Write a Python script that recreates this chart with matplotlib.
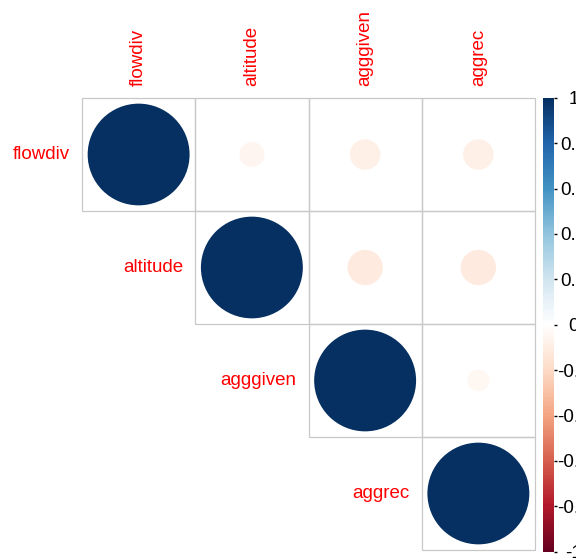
import numpy as np
import matplotlib
matplotlib.use('Agg')
import matplotlib.pyplot as plt
import matplotlib as mpl
from matplotlib.patches import Rectangle, Circle
from matplotlib.colors import LinearSegmentedColormap, Normalize

plt.rcParams['font.family'] = ['Liberation Sans', 'DejaVu Sans']

# correlation matrix of the four variables
variables = ['flowdiv', 'altitude', 'agggiven', 'aggrec']
corr = np.array([
    [1.00, -0.06, -0.09, -0.09],
    [-0.06, 1.00, -0.12, -0.12],
    [-0.09, -0.12, 1.00, -0.045],
    [-0.09, -0.12, -0.045, 1.00],
])
cbar_ticks = [-1, -0.8, -0.6, -0.4, -0.2, 0, 0.2, 0.4, 0.6, 0.8, 1]

# RdBu palette as used by corrplot
rdbu = ['#67001F', '#B2182B', '#D6604D', '#F4A582', '#FDDBC7', '#FFFFFF',
        '#D1E5F0', '#92C5DE', '#4393C3', '#2166AC', '#053061']
cmap = LinearSegmentedColormap.from_list('rdbu', rdbu, N=200)
norm = Normalize(vmin=-1, vmax=1)

W, H = 576, 560
fig = plt.figure(figsize=(W / 100, H / 100), dpi=100)

left, right, top, bottom = 82, 535, 98, 550
ax = fig.add_axes([left / W, (H - bottom) / H, (right - left) / W, (bottom - top) / H])
n = len(variables)
ax.set_xlim(0, n)
ax.set_ylim(n, 0)
ax.axis('off')

# upper triangle: grid cells and circles (area ~ |r|)
for i in range(n):
    for j in range(i, n):
        ax.add_patch(Rectangle((j, i), 1, 1, fill=False, edgecolor='#C8C8C8',
                               linewidth=0.9, clip_on=False))
        r = corr[i, j]
        ax.add_patch(Circle((j + 0.5, i + 0.5), 0.45 * np.sqrt(abs(r)),
                            facecolor=cmap(norm(r)), edgecolor='none', zorder=3))

# row labels to the left of the diagonal, column labels on top
for i, name in enumerate(variables):
    ax.annotate(name, xy=(i, i + 0.5), xytext=(-12, 0), textcoords='offset pixels',
                ha='right', va='center', color='red', fontsize=13.5)
    ax.annotate(name, xy=(i + 0.5, 0), xytext=(0, 12), textcoords='offset pixels',
                ha='center', va='bottom', rotation=90, color='red', fontsize=13.5)

# colour legend
cax = fig.add_axes([542.7 / W, (H - 551.7) / H, 11.6 / W, 454 / H])
cb = mpl.colorbar.ColorbarBase(cax, cmap=cmap, norm=norm, ticks=cbar_ticks)
cb.outline.set_visible(False)
cb.set_ticklabels([f'{v:g}' for v in cbar_ticks])
cax.tick_params(axis='y', length=2.2, width=1, pad=11.5, labelsize=13.5)
for lab in cax.get_yticklabels():
    lab.set_horizontalalignment('center')

plt.savefig('out.png', dpi=100)
plt.close()
